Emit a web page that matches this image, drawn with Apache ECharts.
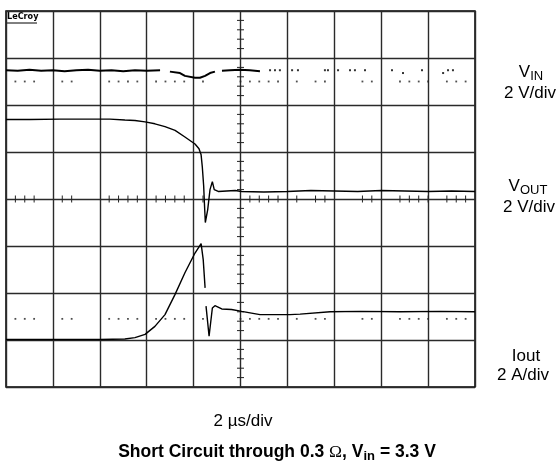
<!DOCTYPE html>
<html>
<head>
<meta charset="utf-8">
<script src="https://cdn.jsdelivr.net/npm/echarts/dist/echarts.min.js"></script>
<style>
  html, body { margin: 0; padding: 0; background: #fff; }
  #chart { width: 560px; height: 464px; }
</style>
</head>
<body>
<div id="chart"></div>
<script>
// scope shot, x = time in us (2 us/div), y = screen divisions counted from the bottom
var vinTime = [0, 0.5, 1.0, 1.5, 2.0, 2.5, 3.0, 3.5, 4.0, 4.5, 5.0, 5.5, 6.0, 6.57, 6.8, 6.99, 7.42, 7.63, 8.06, 8.27, 8.49, 8.70, 8.91, 9.05, 9.21, 9.55, 9.98, 10.40, 10.83];
var vinDiv  = [6.74, 6.73, 6.75, 6.73, 6.74, 6.72, 6.74, 6.75, 6.73, 6.74, 6.72, 6.74, 6.73, 6.74, null, 6.71, 6.68, 6.62, 6.58, 6.58, 6.62, 6.68, 6.71, null, 6.73, 6.74, 6.75, 6.74, 6.72];

var vinDotTime = [11.26, 11.47, 11.68, 12.20, 12.45, 13.60, 13.73, 14.16, 14.67, 14.88, 15.31, 16.46, 16.93, 17.74, 18.64, 18.85, 19.06];
var vinDotDiv  = [6.74, 6.74, 6.74, 6.74, 6.74, 6.74, 6.74, 6.74, 6.74, 6.74, 6.74, 6.74, 6.68, 6.74, 6.68, 6.74, 6.74];

var voutTime = [0, 1.02, 2.30, 3.58, 4.43, 5.07, 5.50, 5.93, 6.35, 6.78, 7.21, 7.63, 8.06, 8.23, 8.32, 8.37, 8.43, 8.46, 8.50, 8.60, 8.70, 8.80, 8.88, 9.05, 9.77, 10.05, 11.0, 12.0, 13.0, 14.0, 15.0, 16.0, 17.0, 18.0, 19.0, 20.0];
var voutDiv  = [5.69, 5.69, 5.70, 5.70, 5.70, 5.68, 5.67, 5.64, 5.60, 5.54, 5.46, 5.32, 5.17, 5.07, 4.94, 4.69, 4.27, 3.92, 3.50, 3.77, 4.20, 4.37, 4.20, 4.16, 4.18, 4.16, 4.15, 4.16, 4.18, 4.17, 4.16, 4.18, 4.17, 4.16, 4.17, 4.16];

var ioutTime = [0, 1.88, 4.01, 5.07, 5.50, 5.93, 6.35, 6.78, 7.21, 7.63, 8.06, 8.32, 8.41, 8.49, 8.51, 8.53, 8.66, 8.80, 8.91, 9.20, 9.62, 10.05, 10.83, 12.11, 12.54, 13.82, 15.10, 16.80, 18.51, 20.0];
var ioutDiv  = [1.01, 1.01, 1.01, 1.02, 1.05, 1.12, 1.29, 1.54, 1.97, 2.43, 2.85, 3.05, 2.71, 2.11, null, 1.72, 1.08, 1.68, 1.73, 1.66, 1.65, 1.61, 1.54, 1.54, 1.55, 1.60, 1.61, 1.60, 1.61, 1.60];

// graticule dots / centre ticks that survived the scan (index of 1/5 division)
var gratIndex = [1, 2, 3, 6, 7, 11, 12, 13, 14, 16, 17, 18, 19, 21, 25, 26, 27, 28, 29, 31, 33, 34, 38, 39, 42, 43, 44, 45, 47, 48, 49];
var dotRows = [6.5, 1.45];

var font = '"Liberation Sans", Arial, Helvetica, sans-serif';

function pairs(t, v) {
  return t.map(function (x, i) { return [x, v[i] === null ? '-' : v[i]]; });
}

var dotData = [];
dotRows.forEach(function (row) {
  gratIndex.forEach(function (k) { dotData.push([k * 0.4, row]); });
});

var hTicks = gratIndex.map(function (k) { return [k * 0.4, 4]; });
var vTicks = [];
for (var m = 1; m < 40; m++) {
  if (m % 5) vTicks.push([10, m * 0.2]);
}

function tickSeries(points, vertical) {
  return {
    type: 'custom',
    silent: true,
    data: points,
    z: 3,
    renderItem: function (params, api) {
      var p = api.coord([api.value(0), api.value(1)]);
      var h = 3.5;
      var shape = vertical
        ? { x1: p[0], y1: p[1] - h, x2: p[0], y2: p[1] + h }
        : { x1: p[0] - h, y1: p[1], x2: p[0] + h, y2: p[1] };
      return { type: 'line', shape: shape, style: { stroke: '#222', lineWidth: 1 } };
    }
  };
}

function trace(data, width) {
  return {
    type: 'line',
    data: data,
    showSymbol: false,
    connectNulls: false,
    silent: true,
    z: 4,
    lineStyle: { color: '#000', width: width }
  };
}

var chart = echarts.init(document.getElementById('chart'));
chart.setOption({
  animation: false,
  backgroundColor: '#fff',
  grid: { left: 6, top: 11, width: 469, height: 376, show: true, borderColor: '#000', borderWidth: 1.5 },
  xAxis: {
    type: 'value', min: 0, max: 20, interval: 2,
    axisLine: { show: false }, axisTick: { show: false }, axisLabel: { show: false },
    splitLine: { show: true, lineStyle: { color: '#2a2a2a', width: 1.4 } }
  },
  yAxis: {
    type: 'value', min: 0, max: 8, interval: 1,
    axisLine: { show: false }, axisTick: { show: false }, axisLabel: { show: false },
    splitLine: { show: true, lineStyle: { color: '#2a2a2a', width: 1.4 } }
  },
  series: [
    tickSeries(hTicks, true),
    tickSeries(vTicks, false),
    {
      type: 'scatter', data: dotData, symbol: 'rect', symbolSize: 1.8, silent: true, z: 3,
      itemStyle: { color: '#222' }
    },
    trace(pairs(vinTime, vinDiv), 2),
    {
      type: 'scatter', data: pairs(vinDotTime, vinDotDiv), symbol: 'rect', symbolSize: 2, silent: true, z: 4,
      itemStyle: { color: '#000' }
    },
    trace(pairs(voutTime, voutDiv), 1.4),
    trace(pairs(ioutTime, ioutDiv), 1.4)
  ],
  graphic: [
    { type: 'text', x: 7, y: 12, style: { text: 'LeCroy', font: 'bold 9px "DejaVu Sans Condensed", sans-serif', fill: '#000' } },
    { type: 'line', shape: { x1: 6, y1: 23, x2: 37, y2: 23 }, style: { stroke: '#000', lineWidth: 1 } },
    {
      type: 'text', x: 531, y: 72,
      style: {
        text: '{m|V}{s|IN}', textAlign: 'center', textVerticalAlign: 'middle',
        rich: { m: { fontFamily: font, fontSize: 17, fill: '#000' }, s: { fontFamily: font, fontSize: 13, fill: '#000', padding: [8, 0, 0, 0] } }
      }
    },
    { type: 'text', x: 530, y: 93, style: { text: '2 V/div', font: '17px ' + font, fill: '#000', textAlign: 'center', textVerticalAlign: 'middle' } },
    {
      type: 'text', x: 528, y: 186,
      style: {
        text: '{m|V}{s|OUT}', textAlign: 'center', textVerticalAlign: 'middle',
        rich: { m: { fontFamily: font, fontSize: 17, fill: '#000' }, s: { fontFamily: font, fontSize: 13, fill: '#000', padding: [8, 0, 0, 0] } }
      }
    },
    { type: 'text', x: 529, y: 207, style: { text: '2 V/div', font: '17px ' + font, fill: '#000', textAlign: 'center', textVerticalAlign: 'middle' } },
    { type: 'text', x: 526, y: 356, style: { text: 'Iout', font: '17px ' + font, fill: '#000', textAlign: 'center', textVerticalAlign: 'middle' } },
    { type: 'text', x: 523, y: 375, style: { text: '2 A/div', font: '17px ' + font, fill: '#000', textAlign: 'center', textVerticalAlign: 'middle' } },
    { type: 'text', x: 243, y: 421, style: { text: '2 \u00b5s/div', font: '17px ' + font, fill: '#000', textAlign: 'center', textVerticalAlign: 'middle' } },
    {
      type: 'text', x: 277, y: 452,
      style: {
        text: '{b|Short Circuit through 0.3 }{o|\u03a9}{b|, V}{s|in}{b| = 3.3 V}', textAlign: 'center', textVerticalAlign: 'middle',
        rich: {
          b: { fontFamily: font, fontSize: 17.5, fontWeight: 'bold', fill: '#000' },
          o: { fontFamily: '"Liberation Serif", serif', fontSize: 17.5, fill: '#000' },
          s: { fontFamily: font, fontSize: 13, fontWeight: 'bold', fill: '#000', padding: [8, 0, 0, 0] }
        }
      }
    }
  ]
});
</script>
</body>
</html>
